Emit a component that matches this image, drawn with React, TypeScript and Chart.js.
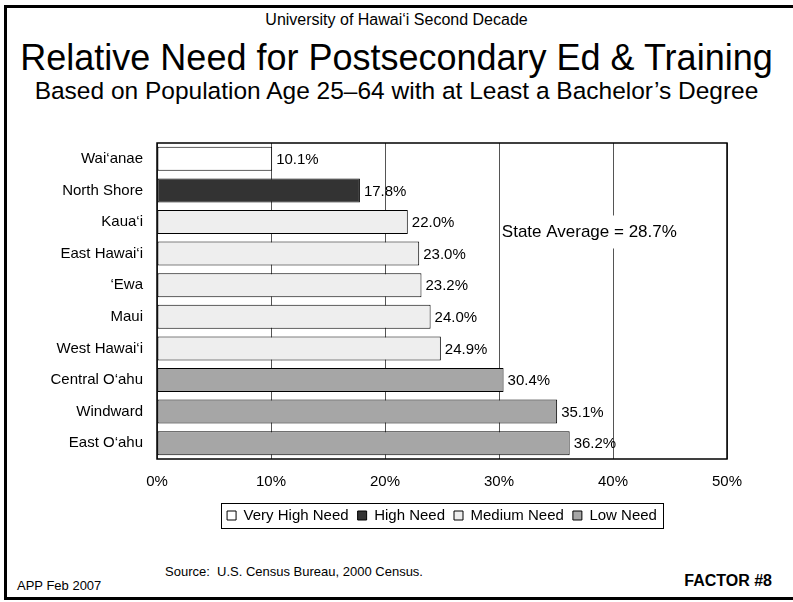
import React, { useEffect, useRef } from "react";
import { Chart, registerables } from "chart.js";

Chart.register(...registerables);

const categories = [
  "Wai‘anae",
  "North Shore",
  "Kaua‘i",
  "East Hawai‘i",
  "‘Ewa",
  "Maui",
  "West Hawai‘i",
  "Central O‘ahu",
  "Windward",
  "East O‘ahu",
];
const values = [10.1, 17.8, 22.0, 23.0, 23.2, 24.0, 24.9, 30.4, 35.1, 36.2];
const levelNames = ["Very High Need", "High Need", "Medium Need", "Low Need"];
const levelColors = ["#ffffff", "#333333", "#eeeeee", "#a6a6a6"];
const barLevels = [0, 1, 2, 2, 2, 2, 2, 3, 3, 3];
const xTicks = [0, 10, 20, 30, 40, 50];
const stateAverage = 28.7;

const FONT = "'Liberation Sans', Arial, Helvetica, sans-serif";

export default function App() {
  const canvasRef = useRef<HTMLCanvasElement | null>(null);

  useEffect(() => {
    const canvas = canvasRef.current;
    if (!canvas) return;
    Chart.defaults.font.family = FONT;
    Chart.defaults.color = "#000";

    const plotFrame = {
      id: "plotFrame",
      afterDatasetsDraw(chart: any) {
        const { ctx, chartArea: a } = chart;
        ctx.save();
        ctx.strokeStyle = "#000";
        ctx.lineWidth = 1.5;
        ctx.strokeRect(a.left, a.top, a.right - a.left, a.bottom - a.top);
        ctx.restore();
      },
    };

    const dataLabels = {
      id: "dataLabels",
      afterDatasetsDraw(chart: any) {
        const { ctx } = chart;
        const meta = chart.getDatasetMeta(0);
        ctx.save();
        ctx.font = `15px ${FONT}`;
        ctx.fillStyle = "#000";
        ctx.textAlign = "left";
        ctx.textBaseline = "middle";
        meta.data.forEach((bar: any, i: number) => {
          ctx.fillText(values[i].toFixed(1) + "%", bar.x + 4, bar.y + 1);
        });
        ctx.restore();
      },
    };

    const stateAvg = {
      id: "stateAvg",
      afterDatasetsDraw(chart: any) {
        const { ctx } = chart;
        const xs = chart.scales.x;
        const ys = chart.scales.y;
        const text = `State Average = ${stateAverage.toFixed(1)}%`;
        const x = xs.getPixelForValue(30.25);
        const y = ys.getPixelForValue(2.3);
        ctx.save();
        ctx.font = `17px ${FONT}`;
        const w = ctx.measureText(text).width;
        ctx.fillStyle = "#fff";
        ctx.fillRect(x - 1, y - 16, w + 8, 33);
        ctx.fillStyle = "#000";
        ctx.textAlign = "left";
        ctx.textBaseline = "middle";
        ctx.fillText(text, x, y + 1);
        ctx.restore();
      },
    };

    const legendBox = {
      id: "legendBox",
      afterDraw(chart: any) {
        const lg = chart.legend;
        if (!lg || !lg.legendHitBoxes || !lg.legendHitBoxes.length) return;
        const boxes = lg.legendHitBoxes;
        let l = Infinity, r = -Infinity, t = Infinity, b = -Infinity;
        boxes.forEach((h: any) => {
          l = Math.min(l, h.left);
          r = Math.max(r, h.left + h.width);
          t = Math.min(t, h.top);
          b = Math.max(b, h.top + h.height);
        });
        const { ctx } = chart;
        ctx.save();
        ctx.strokeStyle = "#000";
        ctx.lineWidth = 1;
        ctx.strokeRect(Math.round(l - 6) + 0.5, Math.round(t - 5) + 0.5, Math.round(r - l + 12), Math.round(b - t + 10));
        ctx.restore();
      },
    };

    const chart = new Chart(canvas, {
      type: "bar",
      data: {
        labels: categories,
        datasets: [
          {
            data: values,
            backgroundColor: barLevels.map((l) => levelColors[l]),
            borderColor: "#000",
            borderWidth: 1,
            borderSkipped: false,
            barPercentage: 0.76,
            categoryPercentage: 1,
          },
        ],
      },
      options: {
        indexAxis: "y",
        responsive: false,
        animation: false,
        events: [],
        layout: { padding: { top: 19, right: 66, bottom: 7, left: 0 } },
        scales: {
          x: {
            min: xTicks[0],
            max: xTicks[xTicks.length - 1],
            afterBuildTicks(scale: any) {
              scale.ticks = xTicks.map((v) => ({ value: v }));
            },
            afterFit(scale: any) {
              scale.height = 40;
            },
            grid: { color: "#555555", lineWidth: 1, drawTicks: false },
            border: { display: false },
            ticks: {
              padding: 14,
              color: "#000",
              font: { size: 15 },
              callback: (v: any) => v + "%",
            },
          },
          y: {
            afterFit(scale: any) {
              scale.width = 157;
            },
            grid: { display: false, drawTicks: false },
            border: { display: false },
            ticks: { padding: 14, color: "#000", font: { size: 15 } },
          },
        },
        plugins: {
          tooltip: { enabled: false },
          title: { display: false },
          legend: {
            display: true,
            position: "bottom",
            fullSize: false,
            onClick: () => {},
            labels: {
              boxWidth: 9,
              boxHeight: 9,
              padding: 9,
              color: "#000",
              font: { size: 15 },
              generateLabels: () =>
                levelNames.map((n, i) => ({
                  text: n,
                  fillStyle: levelColors[i],
                  strokeStyle: "#000",
                  lineWidth: 1,
                  hidden: false,
                  fontColor: "#000",
                  datasetIndex: 0,
                })),
            },
          },
        },
      },
      plugins: [plotFrame, dataLabels, stateAvg, legendBox],
    } as any);

    return () => chart.destroy();
  }, []);

  const base: React.CSSProperties = {
    position: "absolute",
    fontFamily: FONT,
    color: "#000",
    whiteSpace: "pre",
  };

  return (
    <div
      style={{
        position: "fixed",
        left: 0,
        top: 0,
        width: 793,
        height: 602,
        overflow: "hidden",
        background: "#fff",
      }}
    >
      <div
        style={{
          position: "absolute",
          left: 4,
          top: 5,
          width: 900,
          height: 595,
          boxSizing: "border-box",
          border: "3px solid #000",
        }}
      />
      <div style={{ ...base, left: 0, width: 793, textAlign: "center", top: 12, fontSize: 16, lineHeight: "16px" }}>
        University of Hawai‘i Second Decade
      </div>
      <div style={{ ...base, left: 0, width: 793, textAlign: "center", top: 40, fontSize: 36, lineHeight: "36px" }}>
        Relative Need for Postsecondary Ed &amp; Training
      </div>
      <div style={{ ...base, left: 0, width: 793, textAlign: "center", top: 78, fontSize: 24.5, lineHeight: "25px" }}>
        Based on Population Age 25–64 with at Least a Bachelor’s Degree
      </div>
      <div style={{ position: "absolute", left: 0, top: 120, width: 793, height: 420 }}>
        <canvas ref={canvasRef} width={793} height={420} style={{ display: "block", width: 793, height: 420 }} />
      </div>
      <div style={{ ...base, left: 165, top: 565, fontSize: 13, lineHeight: "13px" }}>
        {"Source:  U.S. Census Bureau, 2000 Census."}
      </div>
      <div style={{ ...base, left: 17, top: 579, fontSize: 13, lineHeight: "13px" }}>APP Feb 2007</div>
      <div style={{ ...base, right: 21, top: 573, fontSize: 16, lineHeight: "16px", fontWeight: "bold" }}>
        FACTOR #8
      </div>
    </div>
  );
}
